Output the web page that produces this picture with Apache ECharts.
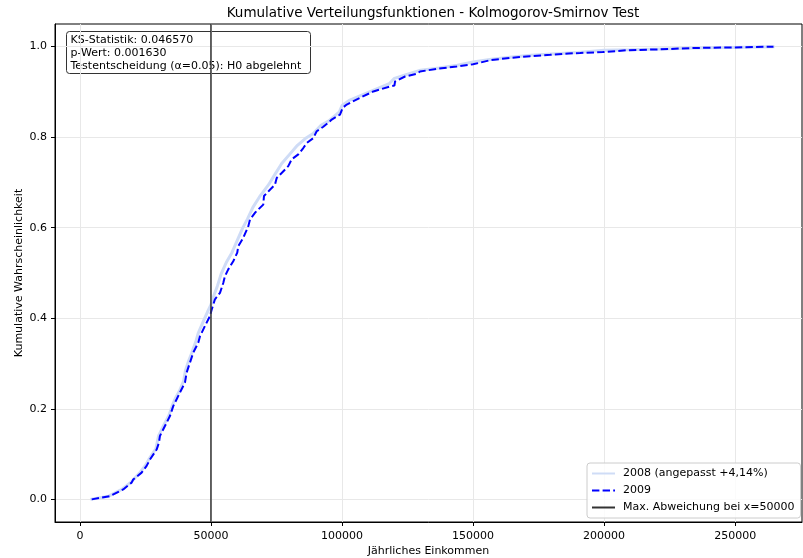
<!DOCTYPE html>
<html>
<head>
<meta charset="utf-8">
<script src="https://cdn.jsdelivr.net/npm/echarts@6/dist/echarts.min.js"></script>
<style>html,body{margin:0;padding:0;background:#fff;overflow:hidden}#c{width:803px;height:558px}</style>
</head>
<body>
<div id="c"></div>
<script>
// ---- data ----
const x2009 = [4500, 11450, 16530, 19730, 20340, 23550, 25460, 26720, 29270, 30150, 30530, 32440, 34350, 35610, 36910, 38170, 40080, 40720, 41980, 43240, 45150, 45800, 47710, 49620, 50270, 51530, 53440, 54700, 55340, 56600, 58510, 60040, 60420, 62330, 64240, 64890, 66790, 69960, 70230, 72520, 74430, 75080, 76980, 79500, 80800, 83320, 85230, 86530, 89050, 90340, 92860, 94770, 96070, 99240, 100000, 100270, 101800, 106870, 111950, 118320, 120000, 120230, 124050, 128510, 129770, 136150, 143780, 148860, 150000, 150120, 156490, 164120, 171760, 179390, 186380, 190840, 199500, 200000, 208670, 221270, 234080, 246830, 264620];
const y2009 = [0.000, 0.007, 0.022, 0.037, 0.044, 0.059, 0.074, 0.088, 0.110, 0.125, 0.140, 0.162, 0.184, 0.206, 0.221, 0.236, 0.258, 0.280, 0.302, 0.324, 0.346, 0.360, 0.383, 0.405, 0.419, 0.442, 0.456, 0.478, 0.493, 0.508, 0.526, 0.545, 0.559, 0.578, 0.603, 0.618, 0.633, 0.651, 0.670, 0.684, 0.695, 0.710, 0.721, 0.736, 0.751, 0.762, 0.776, 0.787, 0.798, 0.813, 0.823, 0.832, 0.839, 0.850, 0.852, 0.865, 0.872, 0.887, 0.901, 0.912, 0.914, 0.923, 0.934, 0.940, 0.945, 0.951, 0.956, 0.960, 0.961, 0.965, 0.970, 0.975, 0.979, 0.982, 0.985, 0.986, 0.988, 0.991, 0.992, 0.994, 0.997, 0.998, 1.000];
const x2008 = [4000, 11000, 16000, 19500, 23000, 25000, 26500, 29000, 30000, 32000, 34000, 35300, 36500, 38000, 39600, 40300, 41500, 42600, 44300, 45200, 47200, 49000, 50000, 51200, 52500, 53900, 56000, 58000, 59500, 62000, 64000, 66000, 68500, 72000, 74000, 77000, 80000, 83000, 86000, 89000, 92000, 95000, 99000, 100000, 103000, 108000, 113000, 118000, 120000, 125000, 130000, 137000, 144000, 150000, 157000, 165000, 172000, 180000, 190000, 200000, 210000, 222000, 235000, 248000, 265000];
const y2008 = [0.000, 0.007, 0.022, 0.038, 0.060, 0.075, 0.090, 0.112, 0.140, 0.164, 0.186, 0.208, 0.224, 0.240, 0.262, 0.285, 0.306, 0.322, 0.350, 0.368, 0.395, 0.418, 0.430, 0.452, 0.472, 0.498, 0.525, 0.545, 0.565, 0.598, 0.620, 0.645, 0.668, 0.695, 0.714, 0.742, 0.762, 0.782, 0.797, 0.808, 0.826, 0.836, 0.856, 0.870, 0.882, 0.894, 0.906, 0.918, 0.930, 0.939, 0.948, 0.953, 0.959, 0.966, 0.972, 0.977, 0.981, 0.984, 0.987, 0.992, 0.993, 0.995, 0.997, 0.998, 1.000];
const xTicks = [0, 50000, 100000, 150000, 200000, 250000];
const yTicks = [0.0, 0.2, 0.4, 0.6, 0.8, 1.0];
const maxDevX = 50000;
const statLines = ['KS-Statistik: 0.046570', 'p-Wert: 0.001630', 'Testentscheidung (α=0.05): H0 abgelehnt'];
const seriesNames = ['2008 (angepasst +4,14%)', '2009', 'Max. Abweichung bei x=50000'];

const zip = (xs, ys) => xs.map((x, i) => [x, ys[i]]);
const FONT = 'DejaVu Sans';

const chart = echarts.init(document.getElementById('c'), null, {renderer: 'canvas', width: 803, height: 558});

chart.setOption({
  animation: false,
  backgroundColor: '#fff',
  textStyle: {fontFamily: FONT},
  title: {
    text: 'Kumulative Verteilungsfunktionen - Kolmogorov-Smirnov Test',
    left: 428, top: 1, textAlign: 'center',
    textStyle: {fontFamily: FONT, fontSize: 13.5, fontWeight: 'normal', color: '#000'}
  },
  grid: {left: 55, top: 24, right: 1, bottom: 36, containLabel: false, outerBoundsMode: 'none',
         show: true, borderColor: '#000', borderWidth: 1, backgroundColor: 'transparent'},
  legend: {
    orient: 'vertical', left: 587, top: 463,
    data: seriesNames,
    itemWidth: 23, itemHeight: 10, itemGap: 6,
    padding: [5, 6, 5, 4],
    itemStyle: {opacity: 0},
    backgroundColor: 'rgba(255,255,255,0.8)', borderColor: '#cccccc', borderWidth: 1, borderRadius: 3,
    textStyle: {fontFamily: FONT, fontSize: 11, color: '#000', padding: [0, 0, 0, 3]}
  },
  xAxis: {
    type: 'value', min: -9500, max: 275500,
    name: 'Jährliches Einkommen', nameLocation: 'middle', nameGap: 24, nameMoveOverlap: false,
    nameTextStyle: {fontFamily: FONT, fontSize: 11, color: '#000'},
    axisLine: {show: true, onZero: false, lineStyle: {color: '#000', width: 1}},
    axisTick: {show: true, length: 4, lineStyle: {color: '#000'}, customValues: xTicks},
    axisLabel: {customValues: xTicks, fontFamily: FONT, fontSize: 11, color: '#000', margin: 9, formatter: v => String(v)},
    splitLine: {show: true, lineStyle: {color: '#e8e8e8', width: 1}}
  },
  yAxis: {
    type: 'value', min: -0.05, max: 1.05,
    name: 'Kumulative Wahrscheinlichkeit', nameLocation: 'middle', nameGap: 30, nameMoveOverlap: false,
    nameTextStyle: {fontFamily: FONT, fontSize: 11, color: '#000'},
    axisLine: {show: true, onZero: false, lineStyle: {color: '#000', width: 1}},
    axisTick: {show: true, length: 4, lineStyle: {color: '#000'}, customValues: yTicks},
    axisLabel: {customValues: yTicks, fontFamily: FONT, fontSize: 11, color: '#000', margin: 8, formatter: v => v.toFixed(1)},
    splitLine: {show: true, lineStyle: {color: '#e8e8e8', width: 1}}
  },
  series: [
    {
      name: seriesNames[0], type: 'line', data: zip(x2008, y2008), symbol: 'none', z: 2,
      lineStyle: {color: '#cfdcf6', width: 3}, itemStyle: {color: '#cfdcf6'}
    },
    {
      name: seriesNames[1], type: 'line', data: zip(x2009, y2009), symbol: 'none', z: 3,
      lineStyle: {color: '#0000ff', width: 2, type: [7.4, 3.2]}, itemStyle: {color: '#0000ff'}
    },
    {
      name: seriesNames[2], type: 'line', data: [[maxDevX, -0.05], [maxDevX, 1.05]], symbol: 'none', z: 4,
      lineStyle: {color: '#333333', width: 1.5}, itemStyle: {color: '#333333'}
    }
  ],
  graphic: [{
    type: 'group', left: 66, top: 31, z: 100,
    children: [
      {type: 'rect', shape: {x: 0, y: 0, width: 244, height: 42, r: 3},
       style: {fill: 'rgba(255,255,255,0.8)', stroke: '#333', lineWidth: 1}},
      {type: 'text', x: 4, y: 2,
       style: {text: statLines.join('\n'), font: '11px "DejaVu Sans"', fill: '#000', lineHeight: 13}}
    ]
  }]
});
</script>
</body>
</html>
